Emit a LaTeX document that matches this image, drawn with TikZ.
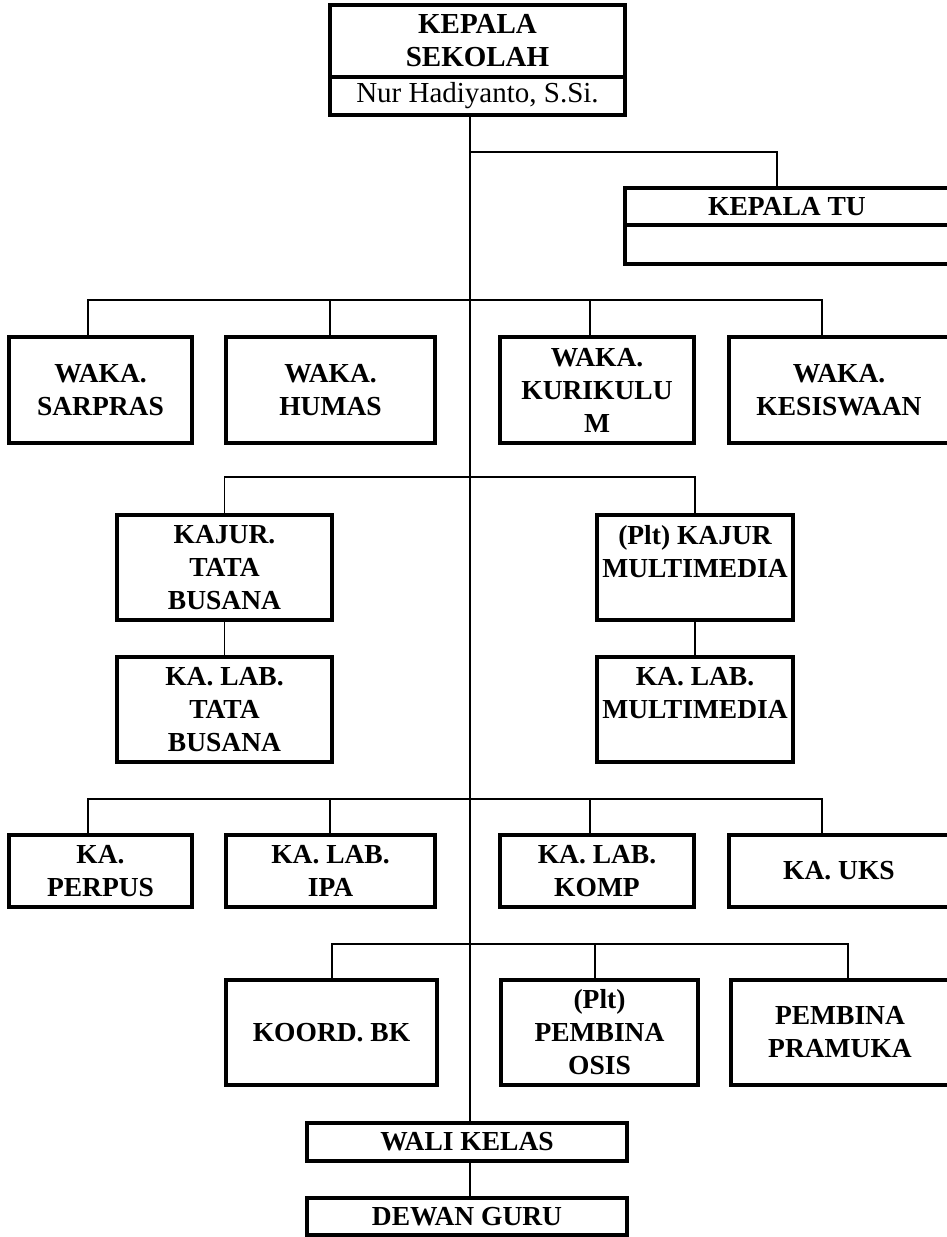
\documentclass[tikz,border=0pt]{standalone}
\usepackage{fontspec}
\setmainfont{Liberation Serif}

\begin{document}
\begin{tikzpicture}[x=1pt,y=-1pt,
  box/.style={draw,line width=3.2pt,inner sep=0pt,outer sep=0pt,align=center,
    font=\bfseries\fontsize{27.5}{33}\selectfont},
  conn/.style={line width=1.8pt}]
\useasboundingbox (0,0) rectangle (947,1237);

% kepala sekolah dan tata usaha
\node[box,minimum width=295pt,minimum height=72pt,font=\bfseries\fontsize{29}{33}\selectfont] (kepsek) at (477.5,41) {KEPALA\\SEKOLAH};
\node[box,minimum width=295pt,minimum height=38pt,font=\fontsize{29}{33}\selectfont] (nama) at (477.5,96) {Nur Hadiyanto, S.Si.};
\node[box,minimum width=324pt,minimum height=37pt] (katu) at (787,206.5) {KEPALA TU};
\node[box,minimum width=324pt,minimum height=39pt] (katuisi) at (787,244.5) {};

% wakil kepala
\node[box,minimum width=183pt,minimum height=106pt] (sarpras) at (100.5,390) {WAKA.\\SARPRAS};
\node[box,minimum width=209pt,minimum height=106pt] (humas) at (330.5,390) {WAKA.\\HUMAS};
\node[box,minimum width=194pt,minimum height=106pt] (kurikulum) at (597,390) {WAKA.\\KURIKULU\\M};
\node[box,minimum width=220pt,minimum height=106pt] (kesiswaan) at (839,390) {WAKA.\\KESISWAAN};

% jurusan
\node[box,minimum width=215pt,minimum height=105pt] (kajurtb) at (224.5,567.5) {KAJUR.\\TATA\\BUSANA};
\node[box,minimum width=215pt,minimum height=105pt] (labtb) at (224.5,709.5) {KA. LAB.\\TATA\\BUSANA};
\node[box,minimum width=196pt,minimum height=105pt] (kajurmm) at (695,567.5) {(Plt) KAJUR\\MULTIMEDIA\\~};
\node[box,minimum width=196pt,minimum height=105pt] (labmm) at (695,709.5) {KA. LAB.\\MULTIMEDIA\\~};

% kepala unit
\node[box,minimum width=183pt,minimum height=72pt] (perpus) at (100.5,871) {KA.\\PERPUS};
\node[box,minimum width=209pt,minimum height=72pt] (labipa) at (330.5,871) {KA. LAB.\\IPA};
\node[box,minimum width=194pt,minimum height=72pt] (labkomp) at (597,871) {KA. LAB.\\KOMP};
\node[box,minimum width=220pt,minimum height=72pt] (uks) at (839,871) {KA. UKS};

% pembina
\node[box,minimum width=211pt,minimum height=105pt] (bk) at (331.5,1032.5) {KOORD. BK};
\node[box,minimum width=197pt,minimum height=105pt] (osis) at (599.5,1032.5) {(Plt)\\PEMBINA\\OSIS};
\node[box,minimum width=218pt,minimum height=105pt] (pramuka) at (840,1032.5) {PEMBINA\\PRAMUKA};

\node[box,minimum width=320pt,minimum height=38pt] (wali) at (467,1142) {WALI KELAS};
\node[box,minimum width=320pt,minimum height=37pt] (dewan) at (467,1216.5) {DEWAN GURU};

% garis
\coordinate (spine) at (470,115);
\coordinate (t1) at (777,152);
\coordinate (w1) at (88,300);
\coordinate (w2) at (330,300);
\coordinate (w3) at (590,300);
\coordinate (w4) at (822,300);
\coordinate (k1) at (88,799);
\coordinate (k2) at (330,799);
\coordinate (k3) at (590,799);
\coordinate (k4) at (822,799);
\coordinate (p1) at (332,944);
\coordinate (p2) at (595,944);
\coordinate (p3) at (848,944);

\draw[conn] (nama.south -| spine) -- (wali.north -| spine);
\draw[conn] (wali.south -| spine) -- (dewan.north -| spine);
\draw[conn] (t1 -| spine) -- (t1) -- (t1 |- katu.north);

\draw[conn] (w1 |- sarpras.north) -- (w1) -- (w4) -- (w4 |- kesiswaan.north);
\draw[conn] (w2) -- (w2 |- humas.north);
\draw[conn] (w3) -- (w3 |- kurikulum.north);

\draw[conn] (kajurtb.north) -- ++(0,-38) -| (kajurmm.north);
\draw[conn] (kajurtb) -- (labtb);
\draw[conn] (kajurmm) -- (labmm);

\draw[conn] (k1 |- perpus.north) -- (k1) -- (k4) -- (k4 |- uks.north);
\draw[conn] (k2) -- (k2 |- labipa.north);
\draw[conn] (k3) -- (k3 |- labkomp.north);

\draw[conn] (p1 |- bk.north) -- (p1) -- (p3) -- (p3 |- pramuka.north);
\draw[conn] (p2) -- (p2 |- osis.north);
\end{tikzpicture}
\end{document}
